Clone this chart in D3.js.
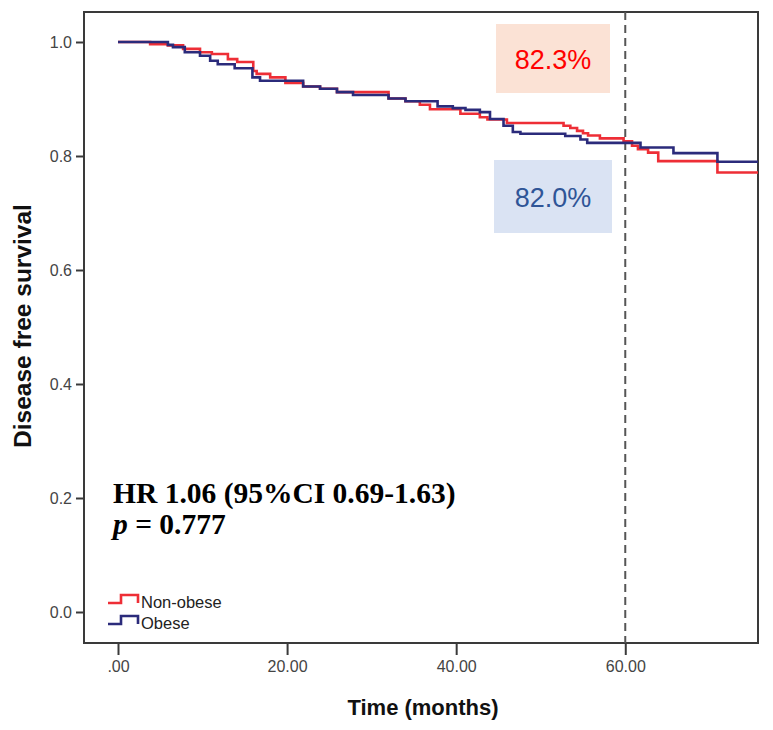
<!DOCTYPE html>
<html>
<head>
<meta charset="utf-8">
<script src="https://cdn.jsdelivr.net/npm/d3@7"></script>
<style>
  html, body { margin: 0; padding: 0; background: #fff; }
  svg { display: block; }
</style>
</head>
<body>
<svg id="chart" width="773" height="730"></svg>
<script>
// ---- Data ----
const nonObeseTime = [0, 3.8, 5.9, 7.7, 9.7, 11.1, 13.0, 14.1, 16.0, 16.4, 18.0, 19.8, 21.9, 23.9, 25.9, 32.0, 34.0, 35.7, 36.9, 40.5, 42.8, 43.7, 46.0, 52.7, 53.5, 54.3, 55.0, 55.6, 57.0, 59.8, 60.8, 61.5, 62.7, 63.9, 70.9, 75.7];
const nonObeseSurv = [1.0, 0.996, 0.994, 0.988, 0.982, 0.979, 0.970, 0.965, 0.949, 0.944, 0.938, 0.928, 0.922, 0.918, 0.912, 0.901, 0.896, 0.890, 0.882, 0.874, 0.868, 0.864, 0.858, 0.853, 0.849, 0.844, 0.840, 0.836, 0.831, 0.826, 0.818, 0.812, 0.806, 0.791, 0.771, 0.771];
const obeseTime = [0, 5.9, 6.5, 7.9, 9.7, 10.9, 11.8, 13.8, 15.9, 16.8, 21.9, 23.9, 25.9, 27.8, 32.0, 34.0, 37.8, 39.6, 41.1, 42.8, 44.0, 45.6, 46.7, 47.6, 52.9, 54.7, 55.5, 61.8, 65.7, 70.9, 75.7];
const obeseSurv = [1.0, 0.995, 0.991, 0.982, 0.976, 0.967, 0.961, 0.954, 0.938, 0.932, 0.922, 0.918, 0.912, 0.907, 0.901, 0.896, 0.887, 0.884, 0.881, 0.877, 0.865, 0.853, 0.842, 0.839, 0.835, 0.829, 0.823, 0.815, 0.805, 0.790, 0.790];
const seriesNames = ["Non-obese", "Obese"];
const seriesColors = ["#ee2e36", "#2b2b7b"];
const xTicks = [0, 20, 40, 60];
const xTickLabels = [".00", "20.00", "40.00", "60.00"];
const yTicks = [0, 0.2, 0.4, 0.6, 0.8, 1.0];
const yTickLabels = ["0.0", "0.2", "0.4", "0.6", "0.8", "1.0"];
const landmarkTime = 60;
const landmarkLabels = ["82.3%", "82.0%"];
const hrText = "HR 1.06 (95%CI 0.69-1.63)";
const pValue = "0.777";

// ---- Layout ----
const svg = d3.select("#chart");
const frame = { left: 84, right: 758, top: 12, bottom: 643 };
const x = d3.scaleLinear().domain([0, 75.7]).range([118, 758]);
const y = d3.scaleLinear().domain([0, 1]).range([612, 42]);

// Frame
svg.append("rect")
  .attr("x", frame.left).attr("y", frame.top)
  .attr("width", frame.right - frame.left).attr("height", frame.bottom - frame.top)
  .attr("fill", "none").attr("stroke", "#3a3a3a").attr("stroke-width", 2);

// Axes
const xAxis = d3.axisBottom(x).tickValues(xTicks)
  .tickFormat((d, i) => xTickLabels[i]).tickSizeInner(12).tickSizeOuter(0).tickPadding(6);
const gx = svg.append("g").attr("transform", `translate(0,${frame.bottom})`).call(xAxis);
gx.select(".domain").remove();
gx.selectAll(".tick line").attr("stroke", "#3a3a3a").attr("stroke-width", 2);
gx.selectAll(".tick text").attr("fill", "#444").style("font-family", "Liberation Sans, Arial, sans-serif").style("font-size", "16px");

const yAxis = d3.axisLeft(y).tickValues(yTicks)
  .tickFormat((d, i) => yTickLabels[i]).tickSizeInner(8).tickSizeOuter(0).tickPadding(4);
const gy = svg.append("g").attr("transform", `translate(${frame.left},0)`).call(yAxis);
gy.select(".domain").remove();
gy.selectAll(".tick line").attr("stroke", "#3a3a3a").attr("stroke-width", 2);
gy.selectAll(".tick text").attr("fill", "#444").style("font-family", "Liberation Sans, Arial, sans-serif").style("font-size", "16px");

// Axis titles
svg.append("text").attr("x", 423).attr("y", 715).attr("text-anchor", "middle")
  .style("font-family", "Liberation Sans, Arial, sans-serif").style("font-weight", "bold").style("font-size", "22px")
  .attr("fill", "#111").text("Time (months)");
svg.append("text").attr("transform", "translate(31,326) rotate(-90)").attr("text-anchor", "middle")
  .style("font-family", "Liberation Sans, Arial, sans-serif").style("font-weight", "bold").style("font-size", "24.5px")
  .attr("fill", "#111").text("Disease free survival");

// Annotation boxes
const boxes = [
  { x0: 496, x1: 610, y0: 24, y1: 93, fill: "#fbe2d5", color: "#ff0000", label: landmarkLabels[0] },
  { x0: 494, x1: 612, y0: 160, y1: 233, fill: "#dae3f3", color: "#2f5597", label: landmarkLabels[1] }
];
boxes.forEach(b => {
  svg.append("rect").attr("x", b.x0).attr("y", b.y0).attr("width", b.x1 - b.x0).attr("height", b.y1 - b.y0).attr("fill", b.fill);
  svg.append("text").attr("x", (b.x0 + b.x1) / 2).attr("y", (b.y0 + b.y1) / 2 + 10).attr("text-anchor", "middle")
    .style("font-family", "Liberation Sans, Arial, sans-serif").style("font-size", "27px")
    .attr("fill", b.color).text(b.label);
});

// Landmark dashed line
svg.append("line").attr("x1", x(landmarkTime)).attr("x2", x(landmarkTime))
  .attr("y1", frame.top).attr("y2", frame.bottom)
  .attr("stroke", "#555").attr("stroke-width", 2).attr("stroke-dasharray", "8,5");

// Curves
const line = d3.line().x(d => x(d[0])).y(d => y(d[1])).curve(d3.curveStepAfter);
const series = [
  d3.zip(nonObeseTime, nonObeseSurv),
  d3.zip(obeseTime, obeseSurv)
];
series.forEach((pts, i) => {
  svg.append("path").datum(pts).attr("d", line)
    .attr("fill", "none").attr("stroke", seriesColors[i]).attr("stroke-width", 2.6);
});

// HR text
svg.append("text").attr("x", 113).attr("y", 503)
  .style("font-family", "Liberation Serif, 'Times New Roman', serif").style("font-weight", "bold").style("font-size", "29.5px")
  .attr("fill", "#000").text(hrText);
const pt = svg.append("text").attr("x", 113).attr("y", 534)
  .style("font-family", "Liberation Serif, 'Times New Roman', serif").style("font-weight", "bold").style("font-size", "29.5px")
  .attr("fill", "#000");
pt.append("tspan").style("font-style", "italic").text("p");
pt.append("tspan").text(" = " + pValue);

// Legend
const legendRows = [{ y: 603 }, { y: 624 }];
legendRows.forEach((r, i) => {
  svg.append("path")
    .attr("d", `M108,${r.y} H121 V${r.y - 8} H138 V${r.y}`)
    .attr("fill", "none").attr("stroke", seriesColors[i]).attr("stroke-width", 2.6);
  svg.append("text").attr("x", 141).attr("y", r.y + 5)
    .style("font-family", "Liberation Sans, Arial, sans-serif").style("font-size", "16.5px")
    .attr("fill", "#222").text(seriesNames[i]);
});
</script>
</body>
</html>
